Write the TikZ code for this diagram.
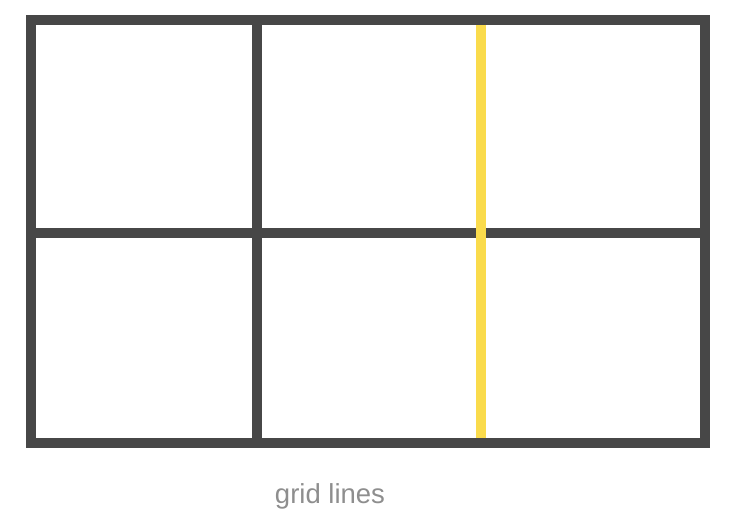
\documentclass[tikz,border=0pt]{standalone}
\usepackage{fontspec}
\setmainfont{Liberation Sans}
\usetikzlibrary{positioning}
\definecolor{gridgray}{RGB}{71, 71, 71}
\definecolor{lineyellow}{RGB}{250, 219, 76}
\definecolor{labelgray}{RGB}{142, 142, 142}

\begin{document}
\begin{tikzpicture}[x=1pt,y=-1pt]
    % Basic parameters for the grid
    \def\lw{10pt}
    \def\gridleft{30.5}
    \def\gridright{705}
    \def\gridtop{20}
    \def\gridbottom{442.5}

    \useasboundingbox (0,0) rectangle (756,532);

    % Inner grid lines
    \draw[gridgray, line width=\lw] (257,\gridtop) -- (257,\gridbottom);
    \draw[gridgray, line width=\lw] (\gridleft,233) -- (\gridright,233);

    % Highlighted line
    \draw[lineyellow, line width=\lw] (480.5,\gridtop) -- (480.5,\gridbottom);

    % Outer frame
    \draw[gridgray, line width=\lw] (\gridleft,\gridtop) rectangle (\gridright,\gridbottom);

    % Add label
    \node[anchor=base, text=labelgray, font=\fontsize{27.5}{32}\selectfont, inner sep=0pt] (label) at (330,503.5) {grid lines};
\end{tikzpicture}
\end{document}
